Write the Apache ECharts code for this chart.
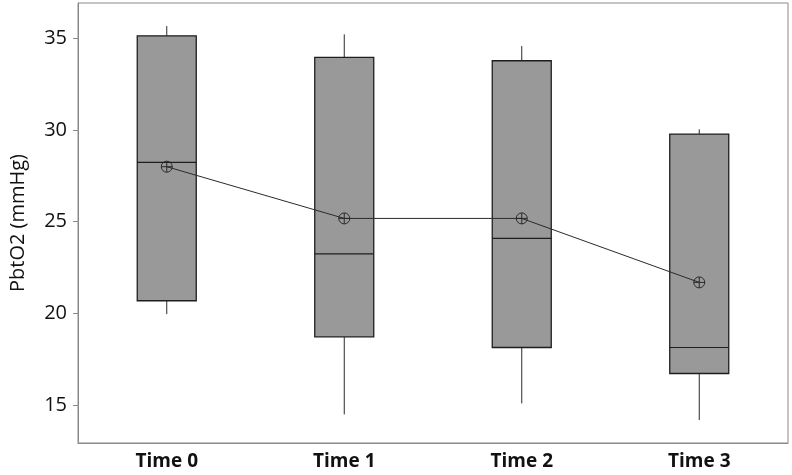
<!DOCTYPE html>
<html>
<head>
<meta charset="utf-8">
<script src="https://cdn.jsdelivr.net/npm/echarts@6/dist/echarts.min.js"></script>
<style>html,body{margin:0;padding:0;background:#fff}#c{width:792px;height:475px}</style>
</head>
<body>
<div id="c"></div>
<script>
const categories = ['Time 0', 'Time 1', 'Time 2', 'Time 3'];
const whiskerMin = [19.96, 14.49, 15.09, 14.18];
const q1Values = [20.69, 18.72, 18.14, 16.72];
const medianValues = [28.24, 23.25, 24.09, 18.14];
const q3Values = [35.14, 33.96, 33.78, 29.78];
const whiskerMax = [35.67, 35.22, 34.58, 30.04];
const meanValues = [28.0, 25.18, 25.18, 21.69];
const yTicks = [15, 20, 25, 30, 35];

const boxData = categories.map((c, i) => [i, whiskerMin[i], q1Values[i], medianValues[i], q3Values[i], whiskerMax[i]]);

const chart = echarts.init(document.getElementById('c'), null, {renderer: 'canvas'});
const halfW = 29.5;
const symPath = 'path://M0,-6 A6,6 0 1,1 0,6 A6,6 0 1,1 0,-6 Z M-6,0 L6,0 M0,-6 L0,6';

chart.setOption({
  animation: false,
  backgroundColor: '#fff',
  grid: {left: 76, right: 4, top: 3, bottom: 32, show: true, borderColor: '#8a8a8a', borderWidth: 1},
  xAxis: {
    type: 'category',
    data: categories,
    boundaryGap: true,
    axisLine: {lineStyle: {color: '#8a8a8a'}},
    axisTick: {alignWithLabel: true, length: 5, lineStyle: {color: '#8a8a8a'}},
    axisLabel: {color: '#111', fontFamily: 'Open Sans', fontWeight: 'bold', fontSize: 19, margin: 9},
    splitLine: {show: false}
  },
  yAxis: {
    type: 'value',
    min: 12.93,
    max: 36.93,
    name: 'PbtO2 (mmHg)',
    nameLocation: 'middle',
    nameRotate: 90,
    nameGap: 50,
    nameTextStyle: {color: '#111', fontFamily: 'Open Sans', fontSize: 20},
    axisLine: {show: true, lineStyle: {color: '#8a8a8a'}},
    axisTick: {show: true, length: 5, customValues: yTicks, lineStyle: {color: '#8a8a8a'}},
    axisLabel: {color: '#111', fontFamily: 'Open Sans', fontSize: 20, margin: 11, customValues: yTicks},
    splitLine: {show: false}
  },
  series: [
    {
      type: 'custom',
      data: boxData,
      encode: {x: 0, y: [1, 2, 3, 4, 5]},
      z: 2,
      renderItem: function (params, api) {
        const x = api.value(0);
        const pMin = api.coord([x, api.value(1)]);
        const pQ1 = api.coord([x, api.value(2)]);
        const pMed = api.coord([x, api.value(3)]);
        const pQ3 = api.coord([x, api.value(4)]);
        const pMax = api.coord([x, api.value(5)]);
        const cx = pMin[0];
        const lineStyle = {stroke: '#2a2a2a', lineWidth: 1};
        return {
          type: 'group',
          children: [
            {type: 'line', shape: {x1: cx, y1: pMax[1], x2: cx, y2: pQ3[1]}, style: lineStyle},
            {type: 'line', shape: {x1: cx, y1: pQ1[1], x2: cx, y2: pMin[1]}, style: lineStyle},
            {type: 'rect', shape: {x: cx - halfW, y: pQ3[1], width: 2 * halfW, height: pQ1[1] - pQ3[1]},
             style: {fill: '#999999', stroke: '#1e1e1e', lineWidth: 1.3}},
            {type: 'line', shape: {x1: cx - halfW, y1: pMed[1], x2: cx + halfW, y2: pMed[1]},
             style: {stroke: '#1e1e1e', lineWidth: 1.2}}
          ]
        };
      }
    },
    {
      type: 'line',
      data: meanValues,
      z: 3,
      symbol: symPath,
      symbolSize: 11,
      showAllSymbol: true,
      lineStyle: {color: '#2a2a2a', width: 1},
      itemStyle: {color: 'none', borderColor: '#2a2a2a', borderWidth: 1}
    }
  ]
});
</script>
</body>
</html>
